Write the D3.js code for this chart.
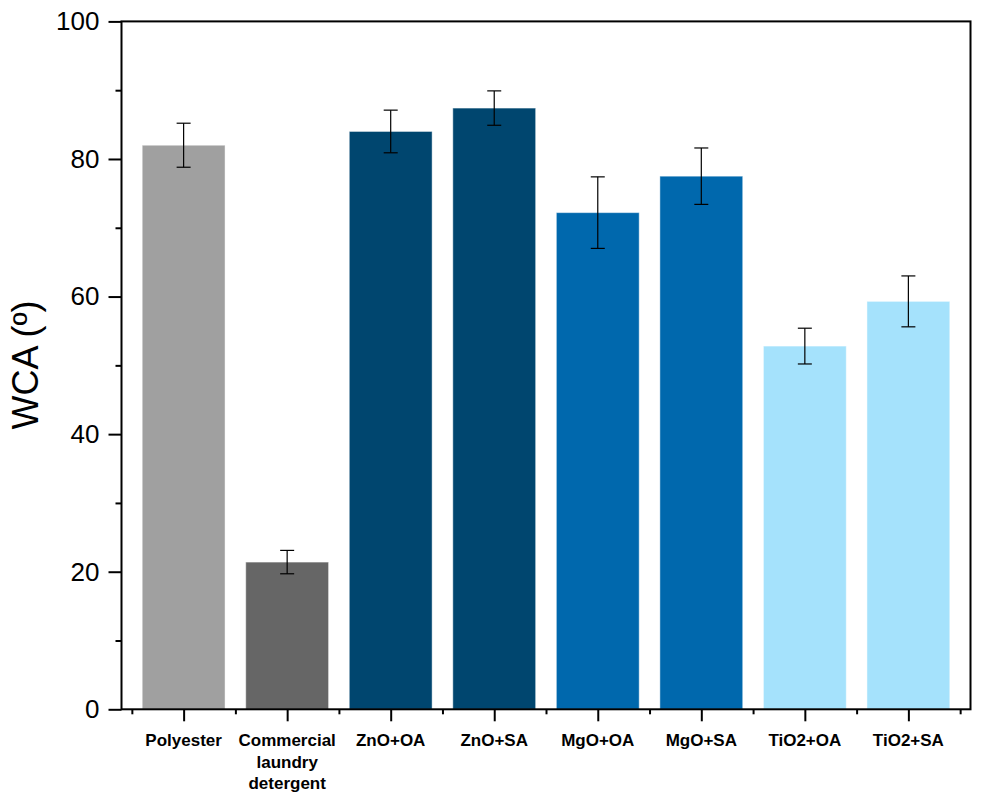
<!DOCTYPE html>
<html>
<head>
<meta charset="utf-8">
<script src="https://cdn.jsdelivr.net/npm/d3@7"></script>
<style>
  body { margin: 0; background: #fff; }
  svg { display: block; font-family: 'Liberation Sans', Arial, sans-serif; }
</style>
</head>
<body>
<div class="wca_plot"></div>
<script>
// data
const categories = ['Polyester', 'Commercial laundry detergent', 'ZnO+OA', 'ZnO+SA',
                    'MgO+OA', 'MgO+SA', 'TiO2+OA', 'TiO2+SA'];
const tickLines = [['Polyester'], ['Commercial', 'laundry', 'detergent'], ['ZnO+OA'], ['ZnO+SA'],
                   ['MgO+OA'], ['MgO+SA'], ['TiO2+OA'], ['TiO2+SA']];
const wca = [82.0, 21.4, 84.0, 87.4, 72.2, 77.5, 52.8, 59.3];
const wcaErr = [3.2, 1.7, 3.1, 2.5, 5.2, 4.1, 2.6, 3.7];
const yTicks = [0, 20, 40, 60, 80, 100];
const yMinor = [10, 30, 50, 70, 90];

const barColors = ['#a0a0a0', '#666666', '#00466f', '#00466f', '#0068ad', '#0068ad', '#a5e2fc', '#a5e2fc'];

const data = categories.map((c, i) => ({idx: i + 1, name: c, value: wca[i], err: wcaErr[i], lines: tickLines[i]}));

const W = 981, H = 802;
const plot = {left: 121.5, right: 970.5, top: 21.4, bottom: 709.3};

const xScale = d3.scaleLinear().domain([0.4, 8.6]).range([plot.left, plot.right]);
const yScale = d3.scaleLinear().domain([0, 100]).range([plot.bottom, plot.top]);
const barW = xScale(0.8) - xScale(0);

const svg = d3.select('.wca_plot')
  .append('svg')
  .attr('width', W)
  .attr('height', H);

// bars
svg.selectAll('rect.bar')
  .data(data)
  .enter()
  .append('rect')
  .attr('class', 'bar')
  .attr('x', d => xScale(d.idx) - barW / 2)
  .attr('y', d => yScale(d.value))
  .attr('width', barW)
  .attr('height', d => yScale(0) - yScale(d.value))
  .attr('fill', (d, i) => barColors[i])
  .attr('stroke', '#ffffff')
  .attr('stroke-opacity', 0.45)
  .attr('stroke-width', 1);

// error bars
const capW = 14;
const eb = svg.selectAll('g.err')
  .data(data)
  .enter()
  .append('g')
  .attr('class', 'err')
  .attr('stroke', '#000')
  .attr('stroke-width', 1.2);
eb.append('line')
  .attr('x1', d => xScale(d.idx)).attr('x2', d => xScale(d.idx))
  .attr('y1', d => yScale(d.value + d.err)).attr('y2', d => yScale(d.value - d.err));
eb.append('line')
  .attr('x1', d => xScale(d.idx) - capW / 2).attr('x2', d => xScale(d.idx) + capW / 2)
  .attr('y1', d => yScale(d.value + d.err)).attr('y2', d => yScale(d.value + d.err));
eb.append('line')
  .attr('x1', d => xScale(d.idx) - capW / 2).attr('x2', d => xScale(d.idx) + capW / 2)
  .attr('y1', d => yScale(d.value - d.err)).attr('y2', d => yScale(d.value - d.err));

// y axis
const yAxis = d3.axisLeft(yScale).tickValues(yTicks).tickSize(13).tickPadding(9).tickFormat(d3.format('d'));
const yAxisMinor = d3.axisLeft(yScale).tickValues(yMinor).tickSize(6).tickFormat('');
svg.append('g')
   .attr('class', 'axis y-axis')
   .attr('transform', `translate(${plot.left}, 0)`)
   .call(yAxis);
svg.append('g')
   .attr('class', 'axis y-axis-minor')
   .attr('transform', `translate(${plot.left}, 0)`)
   .call(yAxisMinor);

// x axis
const xAxis = d3.axisBottom(xScale).tickValues(d3.range(1, 9)).tickSize(12).tickFormat('');
const xAxisMinor = d3.axisBottom(xScale).tickValues(d3.range(0.5, 9, 1)).tickSize(5).tickFormat('');
svg.append('g')
   .attr('class', 'axis x-axis')
   .attr('transform', `translate(0, ${plot.bottom})`)
   .call(xAxis);
svg.append('g')
   .attr('class', 'axis x-axis-minor')
   .attr('transform', `translate(0, ${plot.bottom})`)
   .call(xAxisMinor);

svg.selectAll('.axis path').attr('stroke', '#000').attr('stroke-width', 2).attr('d', null);
svg.selectAll('.axis line').attr('stroke', '#000').attr('stroke-width', 2);
svg.selectAll('.y-axis text').attr('font-size', 26).attr('fill', '#000').attr('font-family', "'Liberation Sans', Arial, sans-serif");

// frame
svg.append('rect')
   .attr('x', plot.left).attr('y', plot.top)
   .attr('width', plot.right - plot.left).attr('height', plot.bottom - plot.top)
   .attr('fill', 'none').attr('stroke', '#000').attr('stroke-width', 2);

// category labels
const lab = svg.selectAll('text.cat')
  .data(data)
  .enter()
  .append('text')
  .attr('class', 'cat')
  .attr('text-anchor', 'middle')
  .attr('font-size', 17)
  .attr('font-weight', 'bold')
  .attr('fill', '#000');
lab.selectAll('tspan')
  .data(d => d.lines.map(l => ({l, x: xScale(d.idx)})))
  .enter()
  .append('tspan')
  .attr('x', d => d.x)
  .attr('y', (d, i) => 746 + i * 21.5)
  .text(d => d.l);

// y title
svg.append('text')
   .attr('transform', `translate(38, 365) rotate(-90)`)
   .attr('text-anchor', 'middle')
   .attr('font-size', 36)
   .attr('fill', '#000')
   .text('WCA (º)');
</script>
</body>
</html>
